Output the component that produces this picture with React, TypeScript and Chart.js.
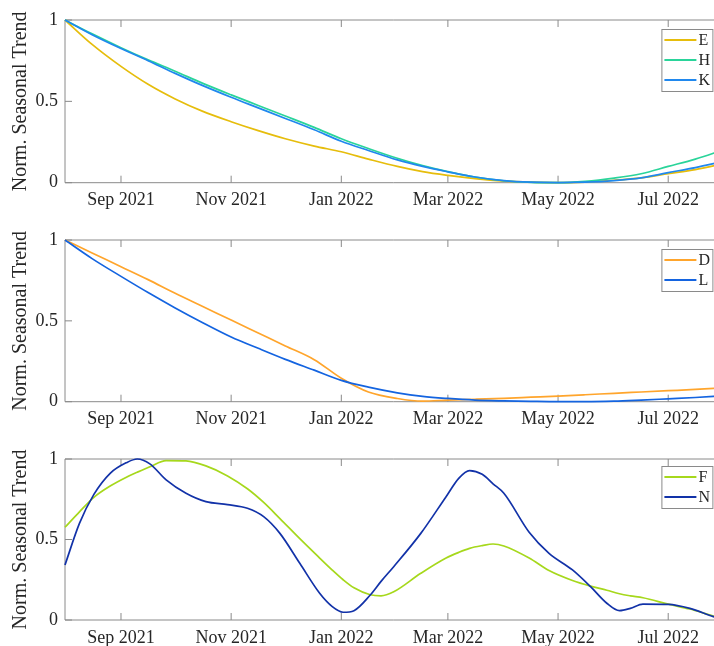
import React, { useEffect, useRef } from "react";
import { Chart, registerables } from "chart.js";

Chart.register(...registerables);

// x values are days since 1 Aug 2021
const tickDays = [31, 92, 153, 212, 273, 334];
const tickLabels = ["Sep 2021", "Nov 2021", "Jan 2022", "Mar 2022", "May 2022", "Jul 2022"];
const yTicks = [0, 0.5, 1];
const yTickLabels = ["0", "0.5", "1"];
const yTitle = "Norm. Seasonal Trend";

const days = [0, 15, 31, 46, 61, 76, 92, 107, 122, 138, 153, 168, 184, 198, 212, 227, 243, 258, 273, 288, 304, 319, 334, 349, 364];

const seriesE = [1.0, 0.85, 0.715, 0.605, 0.515, 0.44, 0.375, 0.32, 0.27, 0.225, 0.19, 0.145, 0.1, 0.068, 0.045, 0.025, 0.01, 0.003, 0.0, 0.004, 0.015, 0.03, 0.055, 0.08, 0.115];
const seriesH = [1.0, 0.915, 0.83, 0.755, 0.685, 0.612, 0.54, 0.475, 0.41, 0.34, 0.27, 0.21, 0.15, 0.105, 0.068, 0.035, 0.012, 0.002, 0.0, 0.008, 0.028, 0.055, 0.1, 0.145, 0.2];
const seriesK = [1.0, 0.91, 0.825, 0.75, 0.672, 0.598, 0.525, 0.46, 0.395, 0.325, 0.255, 0.198, 0.14, 0.1, 0.067, 0.035, 0.013, 0.003, 0.0, 0.003, 0.013, 0.03, 0.062, 0.093, 0.13];

const seriesD = [1.0, 0.92, 0.835, 0.755, 0.67, 0.59, 0.505, 0.425, 0.345, 0.26, 0.145, 0.06, 0.02, 0.004, 0.01, 0.015, 0.021, 0.028, 0.035, 0.043, 0.052, 0.06, 0.068, 0.076, 0.085];
const seriesL = [1.0, 0.885, 0.775, 0.675, 0.58, 0.49, 0.4, 0.33, 0.262, 0.195, 0.132, 0.09, 0.055, 0.033, 0.02, 0.01, 0.005, 0.002, 0.0, 0.0, 0.003, 0.01, 0.018, 0.026, 0.037];

const days3 = [0, 8, 16, 25, 34, 40, 47, 56, 67, 78, 90, 101, 110, 119, 130, 141, 148, 154, 160, 169, 175, 182, 197, 211, 218, 224, 231, 237, 243, 257, 268, 281, 291, 300, 307, 313, 320, 334, 346, 359, 364];
const seriesF = [0.576, 0.672, 0.762, 0.832, 0.887, 0.918, 0.952, 0.99, 0.988, 0.957, 0.895, 0.815, 0.73, 0.63, 0.505, 0.385, 0.31, 0.25, 0.2, 0.157, 0.15, 0.175, 0.29, 0.385, 0.42, 0.445, 0.462, 0.472, 0.46, 0.385, 0.307, 0.245, 0.21, 0.185, 0.163, 0.15, 0.138, 0.099, 0.068, 0.025, 0.012];
const seriesN = [0.342, 0.6, 0.78, 0.911, 0.977, 1.0, 0.97, 0.87, 0.787, 0.735, 0.717, 0.694, 0.642, 0.538, 0.352, 0.166, 0.083, 0.048, 0.058, 0.155, 0.24, 0.331, 0.538, 0.766, 0.88, 0.928, 0.905, 0.846, 0.787, 0.545, 0.414, 0.311, 0.207, 0.104, 0.058, 0.072, 0.099, 0.097, 0.072, 0.021, 0.005];

const FONT = "'Liberation Serif', 'Times New Roman', serif";
const TEXT = "#262626";
const FRAME = "#8a8a8a";

type Series = { label: string; color: string; x: number[]; y: number[] };

const framePlugin = {
  id: "matlabFrame",
  beforeDatasetsDraw(chart: any) {
    const { ctx, chartArea } = chart;
    const { left, right, top, bottom } = chartArea;
    const xs = chart.scales.x;
    const ys = chart.scales.y;
    ctx.save();
    ctx.strokeStyle = FRAME;
    ctx.lineWidth = 1;
    ctx.beginPath();
    ctx.rect(left, top, right - left, bottom - top);
    const tl = 7;
    tickDays.forEach((d) => {
      const px = xs.getPixelForValue(d);
      ctx.moveTo(px, bottom);
      ctx.lineTo(px, bottom - tl);
      ctx.moveTo(px, top);
      ctx.lineTo(px, top + tl);
    });
    yTicks.forEach((v) => {
      const py = ys.getPixelForValue(v);
      ctx.moveTo(left, py);
      ctx.lineTo(left + tl, py);
      ctx.moveTo(right, py);
      ctx.lineTo(right - tl, py);
    });
    ctx.stroke();
    ctx.restore();
  },
};

const legendPlugin = {
  id: "matlabLegend",
  afterDatasetsDraw(chart: any, _args: any, opts: any) {
    const { ctx, chartArea } = chart;
    const items = chart.data.datasets;
    const boxRight = chartArea.right - 10;
    const boxLeft = boxRight - 51;
    const boxTop = chartArea.top + (opts.topOffset ?? 9);
    const rowH = 20;
    const boxH = rowH * items.length + 2;
    ctx.save();
    ctx.fillStyle = "#ffffff";
    ctx.fillRect(boxLeft, boxTop, boxRight - boxLeft, boxH);
    ctx.strokeStyle = FRAME;
    ctx.lineWidth = 1;
    ctx.strokeRect(boxLeft + 0.5, boxTop + 0.5, boxRight - boxLeft, boxH);
    ctx.font = `16px ${FONT}`;
    ctx.textBaseline = "middle";
    ctx.textAlign = "left";
    items.forEach((ds: any, i: number) => {
      const cy = boxTop + 11 + i * rowH;
      ctx.strokeStyle = ds.borderColor;
      ctx.lineWidth = 1.8;
      ctx.beginPath();
      ctx.moveTo(boxLeft + 3, cy);
      ctx.lineTo(boxLeft + 35, cy);
      ctx.stroke();
      ctx.fillStyle = TEXT;
      ctx.fillText(ds.label, boxLeft + 37, cy + 1);
    });
    ctx.restore();
  },
};

function Panel({ series, top, height, plotH, legendTop }: { series: Series[]; top: number; height: number; plotH: number; legendTop: number }) {
  const ref = useRef<HTMLCanvasElement | null>(null);
  const W = 760;
  useEffect(() => {
    if (!ref.current) return;
    const n = series.length;
    const chart = new Chart(ref.current, {
      type: "line",
      data: {
        datasets: series.map((s, i) => ({
          label: s.label,
          data: s.x.map((d, k) => ({ x: d, y: s.y[k] })),
          borderColor: s.color,
          backgroundColor: s.color,
          borderWidth: 1.7,
          pointRadius: 0,
          fill: false,
          cubicInterpolationMode: "monotone" as const,
          clip: 6,
          order: n - i,
        })),
      },
      options: {
        responsive: false,
        animation: false,
        devicePixelRatio: 1,
        layout: { padding: { top: 20, left: 0, right: W - 722.4, bottom: 0 } },
        plugins: {
          legend: { display: false },
          tooltip: { enabled: false },
          matlabLegend: { topOffset: legendTop },
        } as any,
        scales: {
          x: {
            type: "linear",
            min: 0,
            max: 364,
            grid: { display: false, drawTicks: false },
            border: { display: false },
            afterBuildTicks: (scale: any) => {
              scale.ticks = tickDays.map((v) => ({ value: v }));
            },
            afterFit: (scale: any) => {
              scale.height = height - 20 - plotH;
            },
            ticks: {
              autoSkip: false,
              maxRotation: 0,
              padding: 7,
              color: TEXT,
              font: { family: FONT, size: 18 },
              callback: (v: any) => tickLabels[tickDays.indexOf(Number(v))] ?? "",
            },
          },
          y: {
            type: "linear",
            min: 0,
            max: 1,
            grid: { display: false, drawTicks: false },
            border: { display: false },
            afterBuildTicks: (scale: any) => {
              scale.ticks = yTicks.map((v) => ({ value: v }));
            },
            afterFit: (scale: any) => {
              scale.width = 65;
            },
            ticks: {
              padding: 7,
              color: TEXT,
              font: { family: FONT, size: 18 },
              callback: (v: any) => yTickLabels[yTicks.indexOf(Number(v))] ?? "",
            },
            title: {
              display: true,
              text: yTitle,
              color: TEXT,
              font: { family: FONT, size: 20, lineHeight: 1.2 },
              padding: { top: 9, bottom: 0 },
            },
          },
        },
      },
      plugins: [framePlugin, legendPlugin],
    });
    return () => chart.destroy();
  }, []);
  return (
    <canvas
      ref={ref}
      width={W}
      height={height}
      style={{ position: "absolute", left: 0, top, width: W, height, display: "block" }}
    />
  );
}

export default function App() {
  const panel1: Series[] = [
    { label: "E", color: "#E6BD0C", x: days, y: seriesE },
    { label: "H", color: "#2AD49A", x: days, y: seriesH },
    { label: "K", color: "#2088EE", x: days, y: seriesK },
  ];
  const panel2: Series[] = [
    { label: "D", color: "#FFA52C", x: days, y: seriesD },
    { label: "L", color: "#1464E0", x: days, y: seriesL },
  ];
  const panel3: Series[] = [
    { label: "F", color: "#A6D81C", x: days3, y: seriesF },
    { label: "N", color: "#1232A8", x: days3, y: seriesN },
  ];
  return (
    <div style={{ position: "fixed", left: 0, top: 0, width: 714, height: 646, overflow: "hidden", background: "#fff" }}>
      <Panel series={panel1} top={0} height={220} plotH={162.7} legendTop={9} />
      <Panel series={panel2} top={220} height={220} plotH={161.7} legendTop={9} />
      <Panel series={panel3} top={439} height={207} plotH={161} legendTop={7} />
    </div>
  );
}
